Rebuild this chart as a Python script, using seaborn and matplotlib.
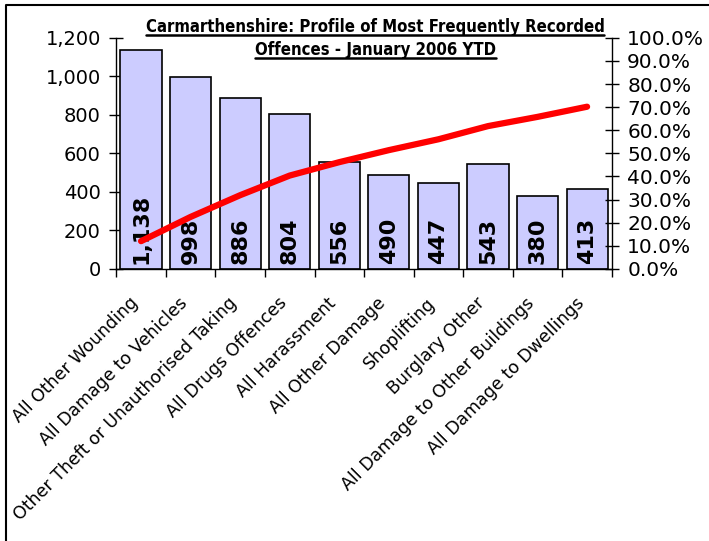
import numpy as np
import pandas as pd
import matplotlib
matplotlib.use("Agg")
import matplotlib.pyplot as plt
import matplotlib.transforms as mtransforms
import seaborn as sns
from matplotlib.lines import Line2D
from matplotlib import ticker

# data
offences = ["All Other Wounding", "All Damage to Vehicles",
            "Other Theft or Unauthorised Taking", "All Drugs Offences",
            "All Harassment", "All Other Damage", "Shoplifting",
            "Burglary Other", "All Damage to Other Buildings",
            "All Damage to Dwellings"]
counts = [1138, 998, 886, 804, 556, 490, 447, 543, 380, 413]
cum_pct = [12.0, 22.5, 31.9, 40.4, 46.2, 51.4, 56.1, 61.8, 65.8, 70.2]
title_lines = ["Carmarthenshire: Profile of Most Frequently Recorded",
               "Offences - January 2006 YTD"]

sns.set_style("white")
plt.rcParams['font.family'] = 'DejaVu Sans'
plt.rcParams['text.color'] = 'black'
plt.rcParams['xtick.color'] = 'black'
plt.rcParams['ytick.color'] = 'black'

df = pd.DataFrame({"Offence": offences, "Count": counts, "Cum": cum_pct})
df["pos"] = np.arange(len(df))

fig = plt.figure(figsize=(7.09, 5.41), dpi=100)
ax = fig.add_axes([0.164, 0.503, 0.699, 0.427])

sns.barplot(ax=ax, data=df, x="Offence", y="Count", color="#ccccff",
            edgecolor="black", linewidth=1.2, width=0.83, saturation=1)
ax.set_xlim(-0.5, len(df) - 0.5)
ax.set_ylim(0, 1200)
ax.set_xlabel("")
ax.set_ylabel("")
ax.yaxis.set_major_locator(ticker.MultipleLocator(200))
ax.yaxis.set_major_formatter(ticker.StrMethodFormatter("{x:,.0f}"))
ax.tick_params(axis="y", direction="inout", length=10, width=1, labelsize=14,
               left=True, pad=6)

# x ticks at category boundaries, labels at centres
ax.set_xticks(df["pos"])
ax.set_xticklabels(offences, rotation=45, ha="right", rotation_mode="anchor",
                   fontsize=12.5)
ax.tick_params(axis="x", length=0, pad=18)
shift = mtransforms.ScaledTranslation(-12 / 100, 0, fig.dpi_scale_trans)
for lab in ax.get_xticklabels():
    lab.set_transform(lab.get_transform() + shift)
ax.set_xticks(np.arange(-0.5, len(df)), minor=True)
ax.tick_params(axis="x", which="minor", direction="out", length=6, width=1, bottom=True)

for s in ["left", "bottom"]:
    ax.spines[s].set_color("black")
    ax.spines[s].set_linewidth(1)
ax.spines["top"].set_visible(False)
ax.spines["right"].set_visible(False)

for i, c in enumerate(counts):
    ax.text(i, 26, f"{c:,}", rotation=90, ha="center", va="bottom",
            fontsize=16, fontweight="heavy", color="black")

ax2 = ax.twinx()
sns.lineplot(ax=ax2, data=df, x="pos", y="Cum", color="#ff0000", linewidth=4.5,
             solid_capstyle="round")
ax2.set_ylim(0, 100)
ax2.set_xlim(-0.5, len(df) - 0.5)
ax2.set_xlabel("")
ax2.set_ylabel("")
ax2.yaxis.set_major_locator(ticker.MultipleLocator(10))
ax2.yaxis.set_major_formatter(ticker.StrMethodFormatter("{x:.1f}%"))
ax2.tick_params(axis="y", direction="inout", length=10, width=1, labelsize=14.5,
                right=True, pad=6)
for s in ["left", "top", "bottom"]:
    ax2.spines[s].set_visible(False)
ax2.spines["right"].set_color("black")
ax2.spines["right"].set_linewidth(1)

# title, two underlined bold lines
t1 = fig.text(0.529, 0.950, title_lines[0], ha="center", va="center",
              fontsize=12, fontweight="bold", fontstretch="condensed")
t2 = fig.text(0.529, 0.907, title_lines[1], ha="center", va="center",
              fontsize=12, fontweight="bold", fontstretch="condensed")
fig.canvas.draw()
r = fig.canvas.get_renderer()
for t in (t1, t2):
    bb = t.get_window_extent(r).transformed(fig.transFigure.inverted())
    fig.add_artist(Line2D([bb.x0, bb.x1], [bb.y0 + 0.002, bb.y0 + 0.002],
                          transform=fig.transFigure, color="black", lw=1.8))

# chart area border (top and left edges visible)
fig.add_artist(Line2D([0.008, 0.008, 1.0], [0.0, 0.991, 0.991],
                      transform=fig.transFigure, color="black", lw=1.5))

fig.savefig("out.png", dpi=100)
